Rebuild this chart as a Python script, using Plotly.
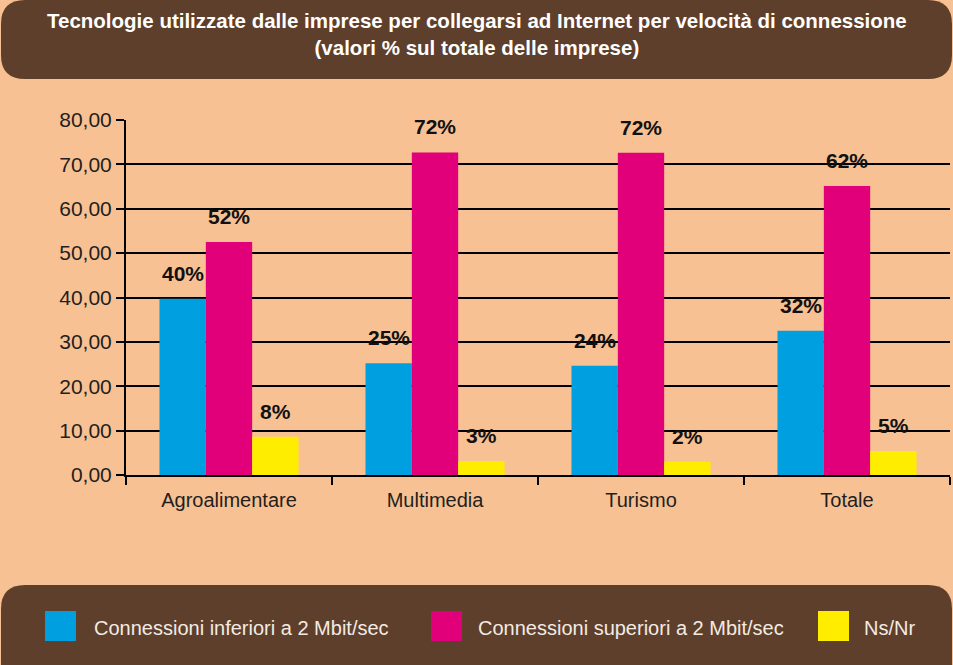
import plotly.graph_objects as go

# ── Data ─────────────────────────────────────────────────────────────────────
categories = ["Agroalimentare", "Multimedia", "Turismo", "Totale"]
series_names = [
    "Connessioni inferiori a 2 Mbit/sec",
    "Connessioni superiori a 2 Mbit/sec",
    "Ns/Nr",
]
inferiori = [39.7, 25.2, 24.6, 32.5]
superiori = [52.5, 72.7, 72.6, 65.1]
ns_nr = [8.6, 3.1, 3.0, 5.4]
labels_inf = ["40%", "25%", "24%", "32%"]
labels_sup = ["52%", "72%", "72%", "62%"]
labels_ns = ["8%", "3%", "2%", "5%"]
y_ticks = [0, 10, 20, 30, 40, 50, 60, 70, 80]

# ── Style ────────────────────────────────────────────────────────────────────
W, H = 953, 665
L, R, T, B = 126, 3, 120, 190
BG = "#f8c193"
BROWN = "#5e3f2b"
INK = "#231f20"
COLORS = ["#009fe0", "#e2007a", "#ffed00"]
FONT = "Liberation Sans Narrow, Arial, sans-serif"

plot_w = W - L - R
plot_h = H - T - B


def px_x(x):
    return (x - L) / plot_w


def px_y(y):
    return (H - B - y) / plot_h


def rounded_rect(x0, y0, x1, y1, r):
    """Rounded rectangle path in paper coords from pixel coords."""
    ax0, ax1 = px_x(x0), px_x(x1)
    ay0, ay1 = px_y(y0), px_y(y1)   # ay0 top (larger), ay1 bottom
    rx = r / plot_w
    ry = r / plot_h
    return (
        f"M {ax0 + rx} {ay0} L {ax1 - rx} {ay0} Q {ax1} {ay0} {ax1} {ay0 - ry} "
        f"L {ax1} {ay1 + ry} Q {ax1} {ay1} {ax1 - rx} {ay1} "
        f"L {ax0 + rx} {ay1} Q {ax0} {ay1} {ax0} {ay1 + ry} "
        f"L {ax0} {ay0 - ry} Q {ax0} {ay0} {ax0 + rx} {ay0} Z"
    )


fig = go.Figure()
all_values = [inferiori, superiori, ns_nr]
all_labels = [labels_inf, labels_sup, labels_ns]
for name, vals, color in zip(series_names, all_values, COLORS):
    fig.add_trace(go.Bar(
        x=categories, y=vals, name=name,
        marker=dict(color=color, line=dict(width=0)),
        hoverinfo="skip",
    ))

bar_w = plot_w / len(categories) * 0.675 / 3
annotations = []
for i, (vals, labs) in enumerate(zip(all_values, all_labels)):
    for cat, v, lab in zip(categories, vals, labs):
        annotations.append(dict(
            x=cat, y=v, xref="x", yref="y",
            text=f"<b>{lab}</b>", showarrow=False,
            xshift=(i - 1) * bar_w, yshift=12, yanchor="bottom",
            font=dict(size=21, color="#111111", family=FONT),
        ))

# title
annotations.append(dict(
    x=px_x(W / 2), y=px_y(34), xref="paper", yref="paper",
    text="<b>Tecnologie utilizzate dalle imprese per collegarsi ad Internet per velocità di connessione<br>(valori % sul totale delle imprese)</b>",
    showarrow=False, xanchor="center", yanchor="middle",
    font=dict(size=20.5, color="#ffffff", family=FONT),
))

# manual legend
legend_pos = [(45, 92), (431, 476), (818, 862)]
shapes = [
    dict(type="path", xref="paper", yref="paper", layer="below",
         path=rounded_rect(1, 0, 952, 79, 24), fillcolor=BROWN, line=dict(width=0)),
    dict(type="path", xref="paper", yref="paper", layer="below",
         path=rounded_rect(1, 585, 952, 700, 24), fillcolor=BROWN, line=dict(width=0)),
]
for (sx, tx), name, color in zip(legend_pos, series_names, COLORS):
    shapes.append(dict(
        type="rect", xref="paper", yref="paper",
        x0=px_x(sx), x1=px_x(sx + 31), y0=px_y(611), y1=px_y(641),
        fillcolor=color, line=dict(width=0),
    ))
    annotations.append(dict(
        x=px_x(tx), y=px_y(628), xref="paper", yref="paper",
        text=name, showarrow=False, xanchor="left", yanchor="middle",
        font=dict(size=20, color="#f3ebe3", family=FONT),
    ))

fig.update_layout(
    width=W, height=H,
    paper_bgcolor=BG, plot_bgcolor=BG,
    margin=dict(l=L, r=R, t=T, b=B, autoexpand=False),
    barmode="group", bargap=0.325, bargroupgap=0,
    separators=",.",
    showlegend=False,
    font=dict(family=FONT, color=INK),
    annotations=annotations,
    shapes=shapes,
    xaxis=dict(
        showgrid=False, showline=True, linecolor="#000000", linewidth=2,
        ticks="outside", tickson="boundaries", ticklen=8, tickwidth=2,
        tickcolor="#000000", tickfont=dict(size=20, color=INK),
        ticklabelstandoff=6,
    ),
    yaxis=dict(
        range=[0, 80], tickvals=y_ticks, tickformat=".2f",
        showgrid=True, gridcolor="#000000", gridwidth=2,
        showline=True, linecolor="#000000", linewidth=2,
        zeroline=False,
        ticks="outside", ticklen=8, tickwidth=2, tickcolor="#000000",
        tickfont=dict(size=21, color=INK),
    ),
)

fig.write_html(
    "out.html",
    config={"displayModeBar": False},
    post_script="document.body.style.margin='0';document.body.style.background='" + BG + "';",
)
